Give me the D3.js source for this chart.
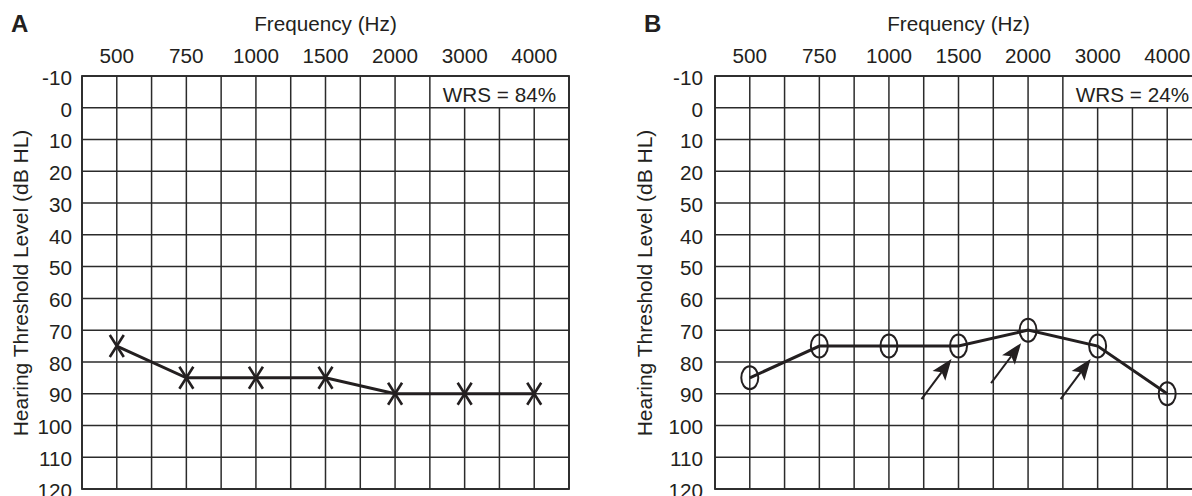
<!DOCTYPE html>
<html>
<head>
<meta charset="utf-8">
<script src="https://cdn.jsdelivr.net/npm/d3@7"></script>
<style>
  body { margin: 0; background: #fff; }
  text { font-family: "Liberation Sans", Arial, sans-serif; fill: #231f20; }
</style>
</head>
<body>
<svg id="chart" width="1192" height="496"></svg>
<script>
// data
const freqs = ["500", "750", "1000", "1500", "2000", "3000", "4000"];
const levels = [-10, 0, 10, 20, 30, 40, 50, 60, 70, 80, 90, 100, 110, 120];
const levelLabelsA = ["-10", "0", "10", "20", "30", "40", "50", "60", "70", "80", "90", "100", "110", "120"];
const levelLabelsB = ["-10", "0", "10", "20", "50", "40", "50", "60", "70", "80", "90", "100", "110", "120"];
const thresholdsA = [75, 85, 85, 85, 90, 90, 90];
const thresholdsB = [85, 75, 75, 75, 70, 75, 90];
const arrowFreqsB = ["1500", "2000", "3000"];
const wrsA = "WRS = 84%";
const wrsB = "WRS = 24%";

const svg = d3.select("#chart");
const plotTop = 76, plotBottom = 489, plotW = 487;
const ink = "#231f20";

const panels = [
  { letter: "A", left: 82, labels: levelLabelsA, values: thresholdsA, wrs: wrsA, mark: "x", arrows: [], pad: 10, titleX: 28 },
  { letter: "B", left: 715, labels: levelLabelsB, values: thresholdsB, wrs: wrsB, mark: "o", arrows: arrowFreqsB, pad: 12, titleX: 652 }
];

const y = d3.scaleLinear().domain([-10, 120]).range([plotTop, plotBottom]);

panels.forEach(p => {
  const g = svg.append("g");
  const x = d3.scaleBand().domain(freqs).range([p.left, p.left + plotW]).padding(0);
  const bw = x.bandwidth();
  const xc = f => x(f) + bw / 2;
  const right = p.left + plotW;
  const boxLeft = x("3000");

  // vertical grid: band edges and band centres
  const cols = freqs.flatMap(f => [x(f), xc(f)]).concat([right]);
  g.selectAll(".vgrid")
    .data(cols)
    .enter().append("line")
    .attr("x1", d => d).attr("x2", d => d)
    .attr("y1", d => (d > boxLeft + 1 && d < right - 1) ? y(0) : y(-10))
    .attr("y2", y(120))
    .attr("stroke", "#2b2b2b")
    .attr("stroke-width", 1.5);

  g.selectAll(".hgrid")
    .data(levels)
    .enter().append("line")
    .attr("x1", p.left).attr("x2", right)
    .attr("y1", d => y(d)).attr("y2", d => y(d))
    .attr("stroke", "#2b2b2b")
    .attr("stroke-width", 1.5);

  g.append("rect")
    .attr("x", p.left).attr("y", plotTop)
    .attr("width", plotW).attr("height", plotBottom - plotTop)
    .attr("fill", "none")
    .attr("stroke", "#2b2b2b")
    .attr("stroke-width", 1.8);

  // axes
  const xAxis = g.append("g")
    .attr("transform", `translate(0,${plotTop})`)
    .call(d3.axisTop(x).tickSize(0).tickPadding(13));
  xAxis.select(".domain").remove();
  xAxis.selectAll("text").style("font-size", "20.7px").attr("fill", ink);

  const yAxis = g.append("g")
    .attr("transform", `translate(${p.left},0)`)
    .call(d3.axisLeft(y).tickValues(levels).tickFormat((d, i) => p.labels[i]).tickSize(0).tickPadding(p.pad));
  yAxis.select(".domain").remove();
  yAxis.selectAll("text").style("font-size", "20.7px").attr("dy", "0.4em").attr("fill", ink);

  // titles
  g.append("text")
    .attr("x", p.left + plotW / 2).attr("y", 31)
    .attr("text-anchor", "middle")
    .style("font-size", "20.7px")
    .text("Frequency (Hz)");

  g.append("text")
    .attr("transform", `translate(${p.titleX},283) rotate(-90)`)
    .attr("text-anchor", "middle")
    .style("font-size", "21px")
    .text("Hearing Threshold Level (dB HL)");

  g.append("text")
    .attr("x", p.left - 71).attr("y", 32)
    .style("font-size", "24px")
    .style("font-weight", "bold")
    .text(p.letter);

  g.append("text")
    .attr("x", (boxLeft + right) / 2).attr("y", 102)
    .attr("text-anchor", "middle")
    .style("font-size", "20.7px")
    .text(p.wrs);

  // threshold line
  const pts = freqs.map((f, i) => ({ f: f, v: p.values[i] }));
  const line = d3.line().x(d => xc(d.f)).y(d => y(d.v));
  g.append("path")
    .datum(pts)
    .attr("d", line)
    .attr("fill", "none")
    .attr("stroke", ink)
    .attr("stroke-width", 3);

  if (p.mark === "x") {
    g.selectAll(".mk")
      .data(pts)
      .enter().append("path")
      .attr("transform", d => `translate(${xc(d.f)},${y(d.v)})`)
      .attr("d", "M-7,-11L7,11M-7,11L7,-11")
      .attr("fill", "none")
      .attr("stroke", ink)
      .attr("stroke-width", 2.6);
  } else {
    g.selectAll(".mk")
      .data(pts)
      .enter().append("ellipse")
      .attr("cx", d => xc(d.f)).attr("cy", d => y(d.v))
      .attr("rx", 8.5).attr("ry", 11.5)
      .attr("fill", "none")
      .attr("stroke", ink)
      .attr("stroke-width", 2);
  }

  // arrows pointing at the markers
  p.arrows.forEach(f => {
    const v = p.values[freqs.indexOf(f)];
    const cx = xc(f), cy = y(v);
    const tail = [cx - 37, cy + 53], tip = [cx - 7, cy + 13];
    const dx = tip[0] - tail[0], dy = tip[1] - tail[1];
    const len = Math.hypot(dx, dy);
    const ux = dx / len, uy = dy / len;
    const hl = 21, hw = 8;
    const base = [tip[0] - ux * hl, tip[1] - uy * hl];
    const notch = [tip[0] - ux * hl * 0.78, tip[1] - uy * hl * 0.78];
    g.append("line")
      .attr("x1", tail[0]).attr("y1", tail[1])
      .attr("x2", notch[0]).attr("y2", notch[1])
      .attr("stroke", ink)
      .attr("stroke-width", 2);
    g.append("path")
      .attr("d", `M${tip[0]},${tip[1]}L${base[0] - uy * hw},${base[1] + ux * hw}L${notch[0]},${notch[1]}L${base[0] + uy * hw},${base[1] - ux * hw}Z`)
      .attr("fill", ink);
  });
});
</script>
</body>
</html>
